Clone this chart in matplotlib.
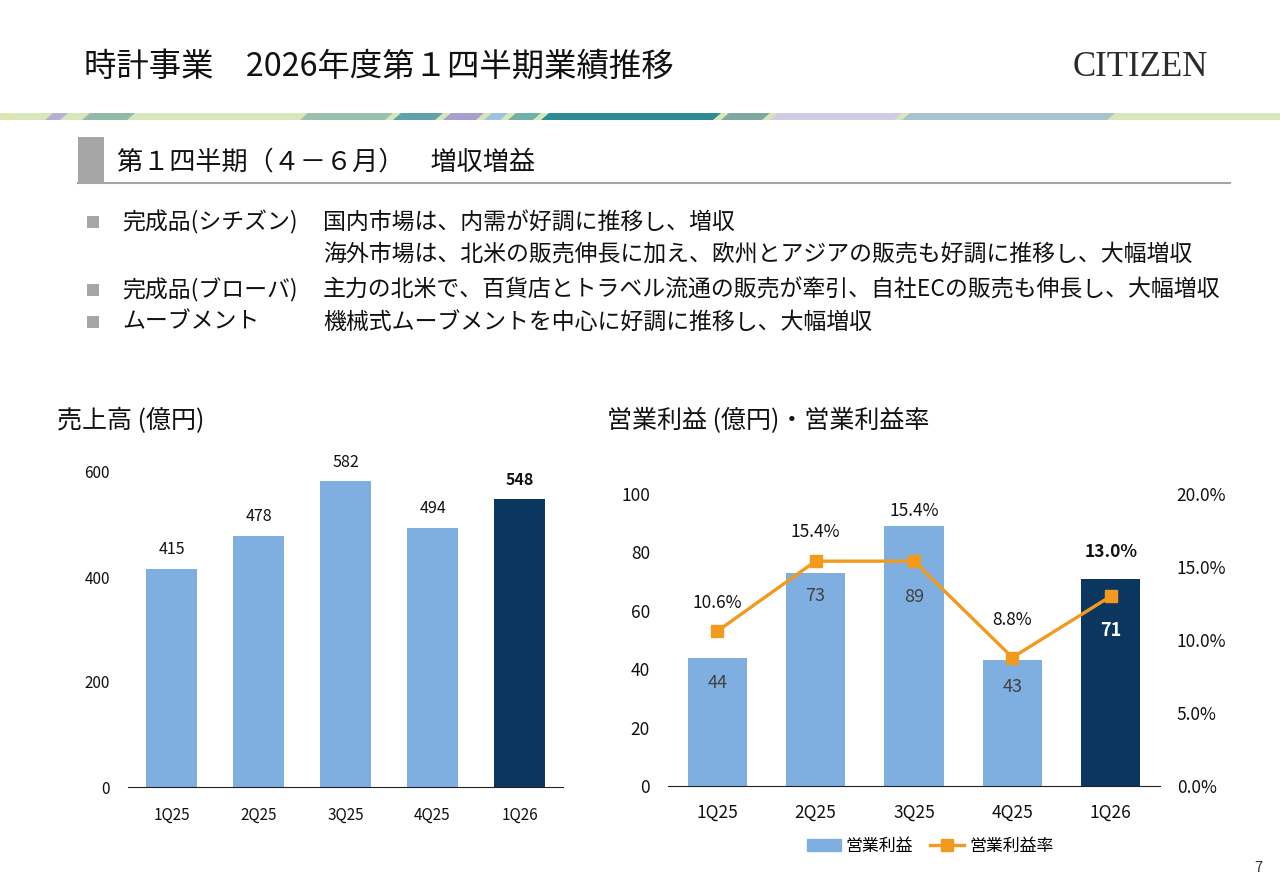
import numpy as np
import matplotlib
matplotlib.use("Agg")
import matplotlib.pyplot as plt
from matplotlib.patches import Polygon, Rectangle
from matplotlib.lines import Line2D

plt.rcParams['font.family'] = ['Noto Sans CJK JP', 'DejaVu Sans']

quarters = ['1Q25', '2Q25', '3Q25', '4Q25', '1Q26']
sales = [415, 478, 582, 494, 548]
op_profit = [44, 73, 89, 43, 71]
op_margin = [10.6, 15.4, 15.4, 8.8, 13.0]

bullet_labels = ['完成品(シチズン)', '', '完成品(ブローバ)', 'ムーブメント']
bullet_texts = ['国内市場は、内需が好調に推移し、増収',
                '海外市場は、北米の販売伸長に加え、欧州とアジアの販売も好調に推移し、大幅増収',
                '主力の北米で、百貨店とトラベル流通の販売が牽引、自社ECの販売も伸長し、大幅増収',
                '機械式ムーブメントを中心に好調に推移し、大幅増収']

LIGHT = '#7FAFE0'
NAVY = '#0B365F'
ORANGE = '#F29A1E'

W, H = 1280, 886
fig = plt.figure(figsize=(W / 100, H / 100), dpi=100)


def px(x, y):
    return x / W, 1 - y / H


def ftext(x, y, s, **kw):
    fx, fy = px(x, y)
    fig.text(fx, fy, s, **kw)


# header
ftext(84, 67, '時計事業　2026年度第１四半期業績推移', fontsize=23.3, va='center', color='#111111')
ftext(1208, 68, 'CITIZEN', fontsize=25, va='center', ha='right', color='#2b2b2b',
      family='Liberation Serif')

# colour stripe
sa = fig.add_axes([0, 1 - 120 / H, 1, 7 / H])
sa.set_xlim(0, W)
sa.set_ylim(0, 1)
sa.axis('off')
sa.add_patch(Rectangle((0, 0), W, 1, color='#d8e7b9', lw=0))
segs = [(0, 14, '#e6e6a8'), (45, 68, '#b9aed6'), (82, 135, '#93b9a9'), (300, 393, '#9cc0b0'),
        (393, 443, '#5fa3a8'), (443, 484, '#a99fcf'), (484, 508, '#9cc3e0'), (508, 541, '#6fb0a8'),
        (541, 721, '#2e8b95'), (721, 770, '#7fa8a0'), (770, 902, '#d0cce6'), (902, 1115, '#a7c3cf')]
for a, b, c in segs:
    sa.add_patch(Polygon([(a, 0), (b - 8, 0), (b, 1), (a + 8, 1)], closed=True, color=c, lw=0))

# section header
fig.patches.append(Rectangle(px(78, 183), 26 / W, 46 / H, transform=fig.transFigure,
                             color='#a6a6a6', lw=0))
fig.add_artist(Line2D([78 / W, 1230 / W], [1 - 183 / H] * 2, color='#a6a6a6', lw=1.5))
ftext(117, 162, '第１四半期（４－６月）　増収増益', fontsize=18.8, va='center', color='#111111')

# bullets
rows_y = [222, 254, 290, 322]
for y, lab, txt in zip(rows_y, bullet_labels, bullet_texts):
    if lab:
        fig.patches.append(Rectangle(px(87, y + 6), 12 / W, 12 / H, transform=fig.transFigure,
                                     color='#a6a6a6', lw=0))
        ftext(122, y, lab, fontsize=16.5, va='center', color='#111111')
    ftext(323, y, txt, fontsize=16.5, va='center', color='#111111')

# chart titles
ftext(57, 421, '売上高 (億円)', fontsize=18, va='center', color='#111111')
ftext(607, 421, '営業利益 (億円)・営業利益率', fontsize=18, va='center', color='#111111')
ftext(1262, 868, '7', fontsize=10.5, va='center', ha='right', color='#333333')

x = np.arange(len(quarters))
colors = [LIGHT] * (len(quarters) - 1) + [NAVY]

# left: sales
ax1 = fig.add_axes([128 / W, (H - 787) / H, 435 / W, 315 / H])
ax1.bar(x, sales, width=0.58, color=colors)
ax1.set_xlim(-0.5, 4.5)
ax1.set_ylim(0, 600)
ax1.set_yticks([0, 200, 400, 600])
ax1.set_xticks(x)
ax1.set_xticklabels(quarters)
ax1.tick_params(length=0, labelsize=11, colors='#111111')
ax1.tick_params(axis='y', pad=13)
ax1.tick_params(axis='x', pad=14)
for s in ['top', 'right', 'left']:
    ax1.spines[s].set_visible(False)
ax1.spines['bottom'].set_color('#222222')
for i, v in enumerate(sales):
    last = i == len(sales) - 1
    ax1.annotate(str(v), (x[i], v), xytext=(0, 14), textcoords='offset points', ha='center',
                 va='center', fontsize=11.5, fontweight='bold' if last else 'normal',
                 color='#111111')

# right: operating profit and margin
ax2 = fig.add_axes([668 / W, (H - 786) / H, 492 / W, 292 / H])
ax2.bar(x, op_profit, width=0.6, color=colors)
ax2.set_xlim(-0.5, 4.5)
ax2.set_ylim(0, 100)
ax2.set_yticks(range(0, 101, 20))
ax2.set_xticks(x)
ax2.set_xticklabels(quarters)
ax2.tick_params(length=0, labelsize=12.5, colors='#111111')
ax2.tick_params(axis='y', pad=13)
ax2.tick_params(axis='x', pad=13)
for s in ['top', 'right', 'left']:
    ax2.spines[s].set_visible(False)
ax2.spines['bottom'].set_color('#222222')

bar_lab_off = [-18, -17, -51, -19, -37]
for i, v in enumerate(op_profit):
    last = i == len(op_profit) - 1
    ax2.annotate(str(v), (x[i], v), xytext=(0, bar_lab_off[i]), textcoords='offset points',
                 ha='center', va='center', fontsize=13,
                 fontweight='bold' if last else 'normal',
                 color='white' if last else '#404040')

ax3 = ax2.twinx()
ax3.plot(x, op_margin, color=ORANGE, lw=2.4, marker='s', markersize=9)
ax3.set_ylim(0, 20)
ax3.set_yticks(range(0, 21, 5))
ax3.set_yticklabels([f'{t:.1f}%' for t in range(0, 21, 5)])
ax3.tick_params(length=0, labelsize=12.5, colors='#111111', pad=12)
for s in ax3.spines.values():
    s.set_visible(False)
rate_off = [20, 21, 36, 27, 32]
for i, v in enumerate(op_margin):
    last = i == len(op_margin) - 1
    ax3.annotate(f'{v:.1f}%', (x[i], v), xytext=(0, rate_off[i]), textcoords='offset points',
                 ha='center', va='center', fontsize=12.5,
                 fontweight='bold' if last else 'normal', color='#111111')

handles = [Rectangle((0, 0), 1, 1, color=LIGHT),
           Line2D([], [], color=ORANGE, lw=2.4, marker='s', markersize=9)]
fig.legend(handles, ['営業利益', '営業利益率'], loc='center', bbox_to_anchor=px(930, 846),
           ncol=2, frameon=False, fontsize=12.2, handlelength=2.0, columnspacing=1.0,
           handletextpad=0.3)

fig.savefig('out.png', dpi=100, facecolor='white')
